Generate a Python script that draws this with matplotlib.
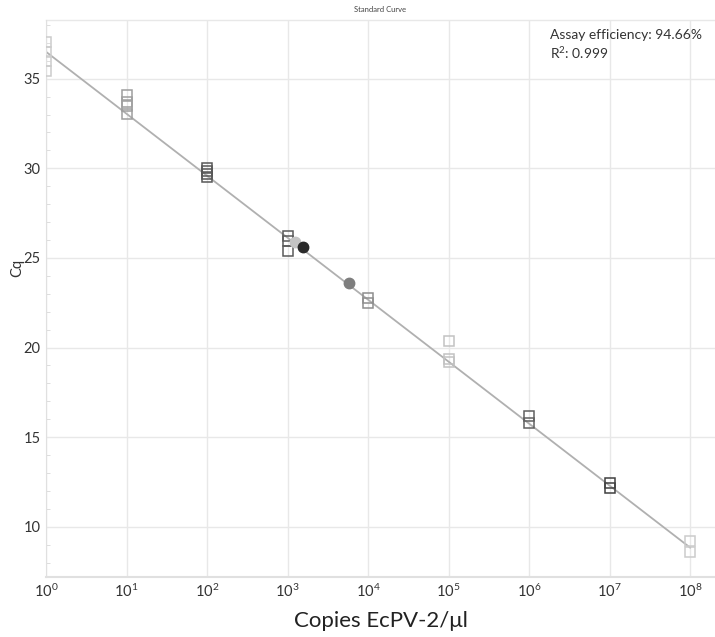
import matplotlib
matplotlib.use("Agg")
import matplotlib.pyplot as plt
import numpy as np
from matplotlib.ticker import FixedLocator, MultipleLocator

plt.rcParams['font.family'] = ['Lato', 'DejaVu Sans']
plt.rcParams['mathtext.fontset'] = 'custom'
plt.rcParams['mathtext.rm'] = 'Lato'
plt.rcParams['mathtext.it'] = 'Lato'

# Standards: (copies, Cq, shade)
std_x = [1, 1, 1, 1,
         10, 10, 10, 10,
         100, 100, 100, 100,
         1000, 1000, 1000,
         1e4, 1e4,
         1e5, 1e5, 1e5,
         1e6, 1e6,
         1e7, 1e7,
         1e8, 1e8]
std_cq = [37.05, 36.5, 36.0, 35.4,
          34.07, 33.7, 33.5, 33.05,
          30.0, 29.85, 29.7, 29.5,
          26.25, 25.97, 25.4,
          22.75, 22.5,
          20.35, 19.35, 19.2,
          16.2, 15.8,
          12.45, 12.15,
          9.2, 8.6]
std_shade = ['#cccccc'] * 4 + ['#9e9e9e'] * 4 + ['#585858'] * 4 + ['#5a5a5a'] * 3 + \
            ['#8e8e8e'] * 2 + ['#c2c2c2'] * 3 + ['#606060'] * 2 + ['#404040'] * 2 + ['#cccccc'] * 2

# Unknown samples
unk_x = [1240, 1550, 5865]
unk_cq = [25.9, 25.6, 23.6]
unk_color = ['#c4c4c4', '#2a2a2a', '#7e7e7e']

# Fit
fit_slope = -3.457
fit_intercept = 36.5
fit_range = [1, 1e8]

efficiency_text = "Assay efficiency: 94.66%"
r2_text = "R$^2$: 0.999"

fig = plt.figure(figsize=(7.15, 6.37), dpi=100)
ax = fig.add_axes([46/715, 1 - 577/637, 1 - 46/715, (577 - 19.5)/637])
ax.set_xscale('log')
ax.set_xlim(1, 10**8.31)
ax.set_ylim(7.2, 38.3)

fx = np.array(fit_range)
ax.plot(fx, fit_intercept + fit_slope * np.log10(fx), color='#b0b0b0', lw=1.3, zorder=2)

for x, y, c in zip(std_x, std_cq, std_shade):
    ax.plot([x], [y], marker='s', ms=7.5, mfc='none', mec=c, mew=1.1, ls='none', zorder=3)
for x, y, c in zip(unk_x, unk_cq, unk_color):
    ax.plot([x], [y], marker='o', ms=7.5, mfc=c, mec=c, ls='none', zorder=4)

ax.xaxis.set_major_locator(FixedLocator([10**i for i in range(9)]))
ax.xaxis.set_minor_locator(FixedLocator([]))
ax.set_xticklabels([r'$10^{%d}$' % i for i in range(9)])
ax.yaxis.set_major_locator(FixedLocator([10, 15, 20, 25, 30, 35]))
ax.yaxis.set_minor_locator(MultipleLocator(1))

ax.grid(True, which='major', color='#e8e8e8', lw=1)
ax.set_axisbelow(True)
for s in ['top', 'right']:
    ax.spines[s].set_visible(False)
ax.spines['left'].set_color('#e0e0e0')
ax.spines['bottom'].set_color('#e0e0e0')
ax.spines['bottom'].set_linewidth(1.5)
ax.axhline(38.3, color='#e8e8e8', lw=1, clip_on=False)

ax.tick_params(axis='both', which='major', length=0, labelsize=10.5, colors='#333333')
ax.tick_params(axis='x', pad=4)
ax.tick_params(axis='y', pad=4)
ax.tick_params(axis='y', which='minor', length=3, direction='in', color='#d8d8d8')

ax.set_xlabel('Copies EcPV-2/μl', fontsize=16, color='#222222', labelpad=8)
ax.set_ylabel('Cq', fontsize=10.5, color='#333333')
ax.yaxis.set_label_coords(-22/669, (577 - 268) / 557.5)

fig.text(380/715, 1 - 10/637, 'Standard Curve', fontsize=5.5, color='#444444', ha='center', va='center')
fig.text(550/715, 1 - 35/637, efficiency_text, fontsize=10, color='#333333', ha='left', va='center')
fig.text(550/715, 1 - 53/637, r2_text, fontsize=10, color='#333333', ha='left', va='center')

fig.savefig('out.png', dpi=100)
